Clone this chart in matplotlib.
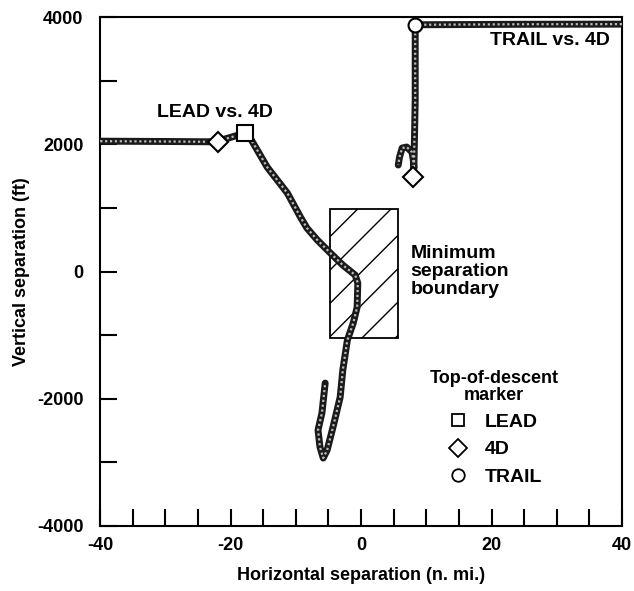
import matplotlib
matplotlib.use('Agg')
import matplotlib.pyplot as plt
from matplotlib.lines import Line2D
from matplotlib.patches import Rectangle

plt.rcParams['font.family'] = ['Liberation Sans', 'DejaVu Sans']
plt.rcParams['font.weight'] = 'bold'
plt.rcParams['axes.labelweight'] = 'bold'

# LEAD vs. 4D trajectory (n. mi., ft)
lead_x = [-40, -30, -22.5, -21.0, -18.8, -17.8, -17.0, -14.4, -11.3, -9.3, -8.3, -6.7, -4.7, -2.8, -0.9,
          -0.5, -0.6, -1.2, -2.1, -2.8, -3.2, -4.3, -5.2, -5.8, -6.3, -6.6, -6.0, -5.5]
lead_y = [2050, 2045, 2040, 2080, 2146, 2170, 2100, 1643, 1234, 857, 684, 495, 291, 102, -55,
          -181, -558, -810, -1077, -1549, -1973, -2445, -2807, -2932, -2759, -2492, -2225, -1753]

# TRAIL vs. 4D trajectory
trail_x = [40, 25, 8.3, 8.3, 8.1, 8.0, 7.8, 7.0, 6.3, 5.9, 5.7]
trail_y = [3890, 3888, 3880, 2700, 1620, 1760, 1879, 1958, 1942, 1800, 1675]

# top-of-descent markers
lead_tod = (-17.8, 2178)
lead_4d_tod = (-21.9, 2036)
trail_tod = (8.3, 3876)
trail_4d_tod = (8.0, 1486)

# minimum separation boundary
box_x = (-4.7, 5.7)
box_y = (-1040, 980)

x_ticks = list(range(-40, 41, 5))
y_ticks = list(range(-4000, 4001, 1000))

fig = plt.figure(figsize=(6.34, 5.91), dpi=100)
ax = fig.add_axes([0.158, 0.110, 0.823, 0.861])

ax.add_patch(Rectangle((box_x[0], box_y[0]), box_x[1] - box_x[0], box_y[1] - box_y[0],
                       facecolor='white', edgecolor='black', hatch='/', lw=1.3, zorder=2))

for xs, ys in [(lead_x, lead_y), (trail_x, trail_y)]:
    ax.plot(xs, ys, color='#1a1a1a', lw=5, solid_capstyle='round', solid_joinstyle='round', zorder=3)
    ax.plot(xs, ys, color='#bbbbbb', lw=1.6, ls=(0, (1, 1.2)), zorder=4)

mk = dict(mfc='white', mec='black', mew=1.5, ls='none', zorder=5)
ax.plot(*lead_tod, marker='s', ms=11, **mk)
ax.plot(*lead_4d_tod, marker='D', ms=10, **mk)
ax.plot(*trail_4d_tod, marker='D', ms=10, **mk)
ax.plot(*trail_tod, marker='o', ms=10, **mk)

ax.text(-22.4, 2500, 'LEAD vs. 4D', fontsize=14, ha='center', va='center')
ax.text(28.9, 3640, 'TRAIL vs. 4D', fontsize=14, ha='center', va='center')
ax.text(7.6, 0, 'Minimum\nseparation\nboundary', fontsize=14, ha='left', va='center', linespacing=1.1)

handles = [Line2D([], [], marker='s', ms=9, mfc='white', mec='black', mew=1.3, ls='none'),
           Line2D([], [], marker='D', ms=9, mfc='white', mec='black', mew=1.3, ls='none'),
           Line2D([], [], marker='o', ms=9, mfc='white', mec='black', mew=1.3, ls='none')]
leg = ax.legend(handles, ['LEAD', '4D', 'TRAIL'], title='Top-of-descent\nmarker',
                loc='upper center', bbox_to_anchor=(0.755, 0.325), frameon=False,
                fontsize=14, title_fontproperties={'size': 13, 'weight': 'bold'},
                handlelength=1.2, handletextpad=0.8, labelspacing=0.5, borderpad=0)
leg.get_title().set_multialignment('center')
leg.get_title().set_linespacing(0.95)

ax.set_xlim(-40, 40)
ax.set_ylim(-4000, 4000)
ax.set_xticks(x_ticks)
ax.set_xticklabels([str(v) if v % 20 == 0 else '' for v in x_ticks])
ax.set_yticks(y_ticks)
ax.set_yticklabels([str(v) if v % 2000 == 0 else '' for v in y_ticks])
ax.tick_params(axis='x', direction='in', length=12, width=1.5, pad=8, labelsize=13)
ax.tick_params(axis='y', direction='in', length=12, width=1.5, pad=12, labelsize=13)
for s in ax.spines.values():
    s.set_linewidth(1.5)

ax.set_xlabel('Horizontal separation (n. mi.)', fontsize=13)
ax.set_ylabel('Vertical separation (ft)', fontsize=13)
ax.xaxis.set_label_coords(0.5, -0.08)
ax.yaxis.set_label_coords(-0.135, 0.5)

fig.savefig('out.png', dpi=100)
